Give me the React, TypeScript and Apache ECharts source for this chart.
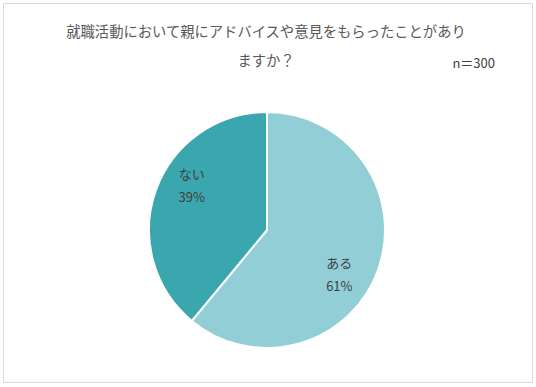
import React, { useEffect, useRef } from "react";
import * as echarts from "echarts";

const categories = ["ある", "ない"];
const values = [61, 39];
const colors = ["#92CEd6", "#3AA6AE"];
const titleLines = ["就職活動において親にアドバイスや意見をもらったことがあり", "ますか？"];
const sampleNote = "n＝300";

export default function App() {
  const ref = useRef<HTMLDivElement>(null);
  useEffect(() => {
    document.body.style.margin = "0";
    const chart = echarts.init(ref.current!, null, { renderer: "svg" });
    const offsets = [
      [14, 23],
      [-17, -24],
    ];
    chart.setOption({
      animation: false,
      backgroundColor: "#ffffff",
      textStyle: { fontFamily: "Noto Sans CJK JP" },
      graphic: [
        {
          type: "rect",
          shape: { x: 3.5, y: 3.5, width: 529, height: 379 },
          style: { fill: "none", stroke: "#d9d9d9", lineWidth: 1 },
          silent: true,
        },
        {
          type: "text",
          x: 266,
          y: 16,
          style: {
            text: titleLines.join("\n"),
            fontSize: 14.3,
            lineHeight: 29,
            fill: "#595959",
            align: "center",
            verticalAlign: "top",
            fontFamily: "Noto Sans CJK JP",
          },
        },
        {
          type: "text",
          x: 495,
          y: 62,
          style: {
            text: sampleNote,
            fontSize: 13,
            fill: "#404040",
            align: "right",
            verticalAlign: "middle",
            fontFamily: "Noto Sans CJK JP",
          },
        },
      ],
      series: [
        {
          type: "pie",
          center: [267, 230],
          radius: 118,
          startAngle: 90,
          clockwise: true,
          itemStyle: { borderColor: "#ffffff", borderWidth: 2 },
          label: {
            position: "inside",
            formatter: "{b}\n{c}%",
            fontSize: 13,
            lineHeight: 23,
            color: "#404040",
            fontFamily: "Noto Sans CJK JP",
          },
          labelLine: { show: false },
          data: categories.map((name, i) => ({
            name,
            value: values[i],
            itemStyle: { color: colors[i] },
            label: { offset: offsets[i] },
          })),
        },
      ],
    });
    return () => chart.dispose();
  }, []);
  return <div ref={ref} style={{ width: 536, height: 387 }} />;
}
